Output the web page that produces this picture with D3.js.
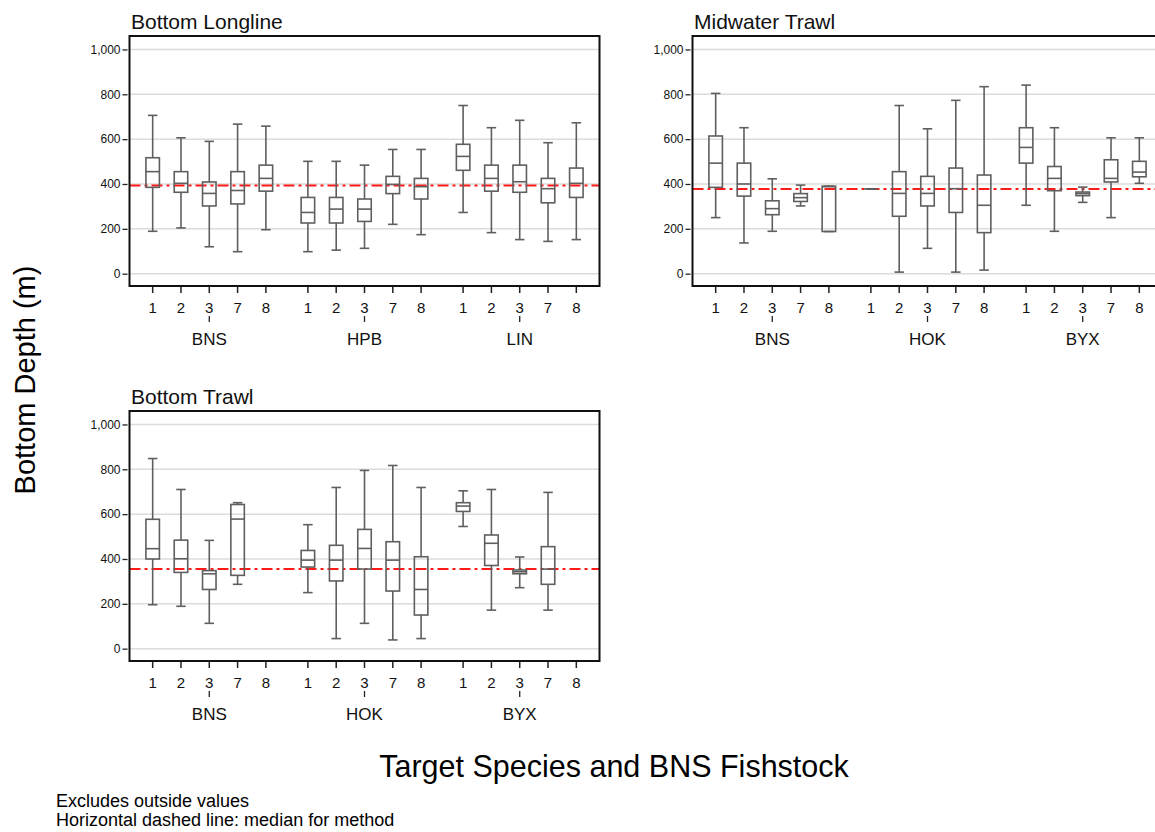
<!DOCTYPE html>
<html>
<head>
<meta charset="utf-8">
<script src="https://cdn.jsdelivr.net/npm/d3@7/dist/d3.min.js"></script>
<style>
  html, body { margin: 0; padding: 0; background: #fff; }
  svg { display: block; font-family: "Liberation Sans", Arial, sans-serif; }
</style>
</head>
<body>
<svg id="chart" width="1155" height="832"></svg>
<script>
// Fishstock codes shown under every species group
const fishstocks = ["1", "2", "3", "7", "8"];
const longlineSpecies = ["BNS", "HPB", "LIN"];
const trawlSpecies = ["BNS", "HOK", "BYX"];
const depthTicks = [0, 200, 400, 600, 800, 1000];

// Box rows: [species, stock, whisker low, Q1, median, Q3, whisker high] (m)
const longlineBoxes = [
  ["BNS", "1", 189, 385, 455, 517, 706],
  ["BNS", "2", 204, 363, 403, 455, 606],
  ["BNS", "3", 120, 302, 358, 409, 590],
  ["BNS", "7", 98, 311, 371, 455, 667],
  ["BNS", "8", 196, 368, 425, 484, 658],
  ["HPB", "1", 98, 226, 273, 340, 501],
  ["HPB", "2", 105, 226, 288, 340, 501],
  ["HPB", "3", 113, 233, 288, 333, 484],
  ["HPB", "7", 220, 357, 398, 434, 554],
  ["HPB", "8", 174, 333, 388, 425, 554],
  ["LIN", "1", 273, 461, 523, 577, 750],
  ["LIN", "2", 183, 368, 425, 484, 651],
  ["LIN", "3", 152, 363, 410, 484, 684],
  ["LIN", "7", 144, 316, 379, 425, 584],
  ["LIN", "8", 152, 340, 403, 471, 673]
];

const midwaterBoxes = [
  ["BNS", "1", 250, 385, 493, 614, 804],
  ["BNS", "2", 137, 346, 400, 493, 651],
  ["BNS", "3", 189, 263, 290, 325, 423],
  ["BNS", "7", 302, 322, 339, 357, 395],
  ["BNS", "8", 188, 188, 388, 390, 390],
  ["HOK", "1", 378, 378, 378, 378, 378],
  ["HOK", "2", 7, 256, 358, 455, 750],
  ["HOK", "3", 113, 302, 358, 434, 646],
  ["HOK", "7", 7, 273, 379, 471, 773],
  ["HOK", "8", 16, 183, 305, 440, 834],
  ["BYX", "1", 305, 493, 563, 651, 841],
  ["BYX", "2", 189, 370, 425, 478, 651],
  ["BYX", "3", 318, 348, 357, 364, 386],
  ["BYX", "7", 250, 409, 425, 508, 606],
  ["BYX", "8", 403, 432, 453, 501, 606]
];

const bottomTrawlBoxes = [
  ["BNS", "1", 196, 400, 446, 577, 848],
  ["BNS", "2", 189, 340, 401, 484, 710],
  ["BNS", "3", 113, 264, 334, 348, 483],
  ["BNS", "7", 287, 327, 578, 643, 651],
  ["HOK", "1", 250, 364, 395, 438, 553],
  ["HOK", "2", 45, 302, 395, 461, 719],
  ["HOK", "3", 113, 355, 447, 532, 795],
  ["HOK", "7", 39, 257, 395, 477, 817],
  ["HOK", "8", 45, 150, 264, 410, 719],
  ["BYX", "1", 545, 612, 636, 651, 704],
  ["BYX", "2", 172, 371, 470, 507, 710],
  ["BYX", "3", 272, 334, 343, 351, 409],
  ["BYX", "7", 172, 287, 355, 455, 697]
];

// Median depth for each fishing method (dashed reference line)
const methodNames = ["Bottom Longline", "Midwater Trawl", "Bottom Trawl"];
const methodMedians = [393, 378, 355];

// ---- layout ----
const svg = d3.select("#chart");
const frameW = 470, frameH = 250;
const panelLayout = [
  { x: 129.5, y: 36, species: longlineSpecies, rows: longlineBoxes },
  { x: 692.5, y: 36, species: trawlSpecies, rows: midwaterBoxes },
  { x: 129.5, y: 411, species: trawlSpecies, rows: bottomTrawlBoxes }
];

const boxColor = "#5f5f5f";
const boxW = 13.5, capW = 9.5;

panelLayout.forEach((p, i) => {
  const g = svg.append("g").attr("transform", `translate(${p.x},${p.y})`);

  const y = d3.scaleLinear().domain([-55, 1060]).range([frameH, 0]);
  const outer = d3.scaleBand().domain(p.species).range([0, frameW])
    .paddingInner(0).paddingOuter(0.014);
  const inner = d3.scalePoint().domain(fishstocks)
    .range([0, outer.bandwidth()]).padding(0.742);
  const xPos = (sp, st) => outer(sp) + inner(st);

  // grid lines
  g.append("g").selectAll("line").data(depthTicks).join("line")
    .attr("x1", 0).attr("x2", frameW)
    .attr("y1", d => y(d)).attr("y2", d => y(d))
    .attr("stroke", "#dcdcdc").attr("stroke-width", 1.5);

  // method median reference line
  g.append("line")
    .attr("x1", 0).attr("x2", frameW)
    .attr("y1", y(methodMedians[i])).attr("y2", y(methodMedians[i]))
    .attr("stroke", "#ff1a1a").attr("stroke-width", 2)
    .attr("stroke-dasharray", "11,4,3,4");

  // y axis
  const yAxis = d3.axisLeft(y).tickValues(depthTicks)
    .tickFormat(d3.format(",")).tickSize(5).tickPadding(2);
  const ya = g.append("g").attr("transform", "translate(-2,0)").call(yAxis);
  ya.select(".domain").remove();
  ya.selectAll(".tick line").attr("stroke", "#222").attr("stroke-width", 1.3);
  ya.selectAll(".tick text").attr("font-size", "12px").attr("fill", "#111")
    .attr("font-family", "Liberation Sans, Arial, sans-serif");

  // x axis: fishstock ticks and labels
  const xa = g.append("g").attr("transform", `translate(0,${frameH})`);
  const slots = p.species.flatMap(sp => fishstocks.map(st => [sp, st]));
  xa.selectAll("line.tick").data(slots).join("line")
    .attr("class", "tick")
    .attr("x1", d => xPos(d[0], d[1])).attr("x2", d => xPos(d[0], d[1]))
    .attr("y1", 0).attr("y2", 7)
    .attr("stroke", "#222").attr("stroke-width", 1.5);
  xa.selectAll("text.stock").data(slots).join("text")
    .attr("class", "stock")
    .attr("x", d => xPos(d[0], d[1])).attr("y", 27)
    .attr("text-anchor", "middle").attr("font-size", "15px").attr("fill", "#111")
    .text(d => d[1]);
  // species labels with a small tick over the middle fishstock
  xa.selectAll("line.group").data(p.species).join("line")
    .attr("class", "group")
    .attr("x1", d => xPos(d, "3")).attr("x2", d => xPos(d, "3"))
    .attr("y1", 30).attr("y2", 36)
    .attr("stroke", "#222").attr("stroke-width", 1.3);
  xa.selectAll("text.group").data(p.species).join("text")
    .attr("class", "group")
    .attr("x", d => xPos(d, "3")).attr("y", 59)
    .attr("text-anchor", "middle").attr("font-size", "17px").attr("fill", "#111")
    .text(d => d);

  // box plots
  const boxes = g.append("g").selectAll("g").data(p.rows).join("g")
    .attr("transform", d => `translate(${xPos(d[0], d[1])},0)`)
    .attr("stroke", boxColor).attr("stroke-width", 1.6).attr("fill", "none");
  boxes.append("line")
    .attr("y1", d => y(d[2])).attr("y2", d => y(d[3]));
  boxes.append("line")
    .attr("y1", d => y(d[5])).attr("y2", d => y(d[6]));
  boxes.append("line")
    .attr("x1", -capW / 2).attr("x2", capW / 2)
    .attr("y1", d => y(d[2])).attr("y2", d => y(d[2]));
  boxes.append("line")
    .attr("x1", -capW / 2).attr("x2", capW / 2)
    .attr("y1", d => y(d[6])).attr("y2", d => y(d[6]));
  boxes.append("rect")
    .attr("x", -boxW / 2).attr("width", boxW)
    .attr("y", d => y(d[5])).attr("height", d => y(d[3]) - y(d[5]));
  boxes.append("line")
    .attr("x1", -boxW / 2).attr("x2", boxW / 2)
    .attr("y1", d => y(d[4])).attr("y2", d => y(d[4]));

  // frame
  g.append("rect").attr("x", 0).attr("y", 0)
    .attr("width", frameW).attr("height", frameH)
    .attr("fill", "none").attr("stroke", "#111").attr("stroke-width", 2);

  // panel title
  g.append("text").attr("x", 1.5).attr("y", -7)
    .attr("font-size", "21px").attr("fill", "#111")
    .text(methodNames[i]);
});

// axis titles
svg.append("text")
  .attr("transform", "translate(35,380) rotate(-90)")
  .attr("text-anchor", "middle").attr("font-size", "29px").attr("fill", "#000")
  .text("Bottom Depth (m)");
svg.append("text")
  .attr("x", 614).attr("y", 777)
  .attr("text-anchor", "middle").attr("font-size", "30.5px").attr("fill", "#000")
  .text("Target Species and BNS Fishstock");

// footnotes
svg.append("text").attr("x", 56).attr("y", 807)
  .attr("font-size", "18px").attr("fill", "#000")
  .text("Excludes outside values");
svg.append("text").attr("x", 56).attr("y", 826)
  .attr("font-size", "18px").attr("fill", "#000")
  .text("Horizontal dashed line: median for method");
</script>
</body>
</html>
